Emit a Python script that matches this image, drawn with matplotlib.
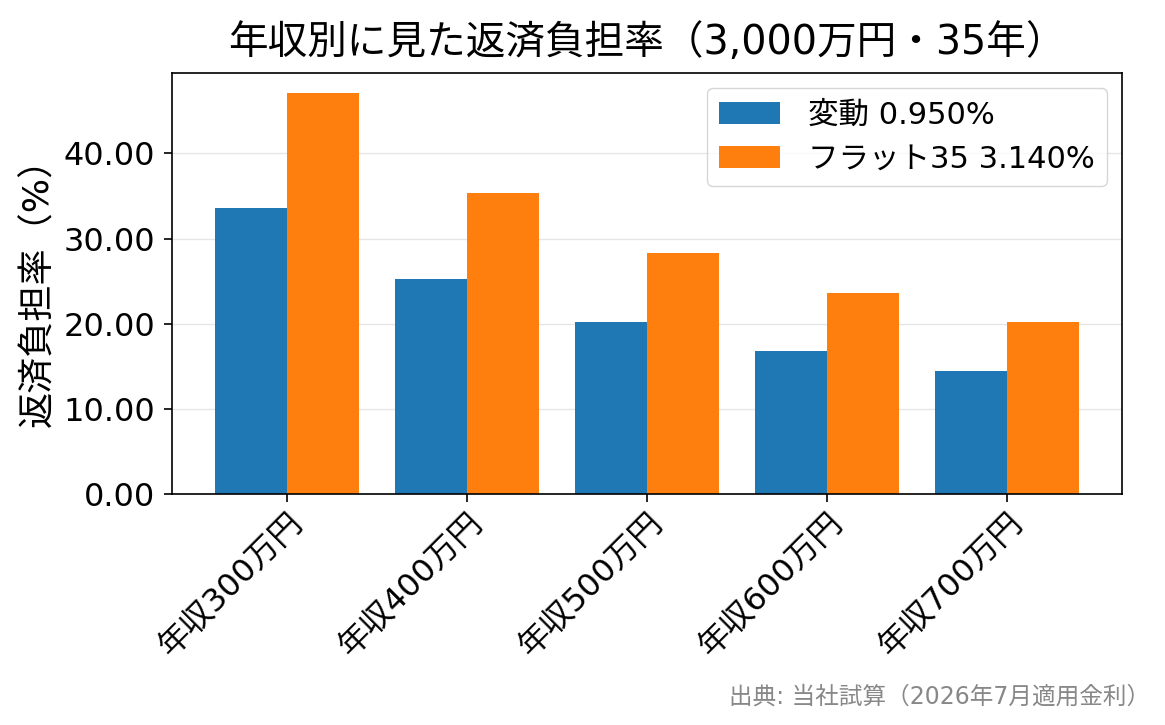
import matplotlib
matplotlib.use("Agg")
import matplotlib.pyplot as plt
import numpy as np

plt.rcParams['font.family'] = ['DejaVu Sans', 'Noto Sans CJK JP']

categories = ["年収300万円", "年収400万円", "年収500万円", "年収600万円", "年収700万円"]
hendo = [33.6, 25.2, 20.2, 16.8, 14.4]
flat35 = [47.1, 35.3, 28.3, 23.6, 20.2]
labels = ["変動 0.950%", "フラット35 3.140%"]

fig = plt.figure(figsize=(11.65, 7.25), dpi=100)
ax = fig.add_axes([172/1165, 1 - 494/725, (1122-172)/1165, (494-73)/725])

x = np.arange(len(categories))
w = 0.4
ax.bar(x - w/2, hendo, w, color="#1f77b4", label=labels[0], zorder=2)
ax.bar(x + w/2, flat35, w, color="#ff7f0e", label=labels[1], zorder=2)

ax.set_xticks(x)
ax.set_xticklabels(categories, rotation=45, ha="right", rotation_mode="anchor", fontsize=23)
ax.yaxis.set_major_formatter(matplotlib.ticker.FormatStrFormatter("%.2f"))
ax.tick_params(axis="both", labelsize=23, length=6, width=1.2)
ax.tick_params(axis="y", pad=6)
ax.set_ylabel("返済負担率（%）", fontsize=26, labelpad=6)
ax.set_title("年収別に見た返済負担率（3,000万円・35年）", fontsize=28.5, pad=14)
ax.grid(axis="y", color="#e6e6e6", linewidth=1, zorder=0)
ax.set_axisbelow(True)
for s in ax.spines.values():
    s.set_linewidth(1.2)
ax.legend(loc="upper right", fontsize=22, handlelength=2.0, handleheight=0.7,
          handletextpad=0.9)

fig.text(1150/1165, 1 - 697/725, "出典: 当社試算（2026年7月適用金利）", ha="right", va="center",
         fontsize=17, color="#888888")

fig.savefig("out.png", dpi=100)
